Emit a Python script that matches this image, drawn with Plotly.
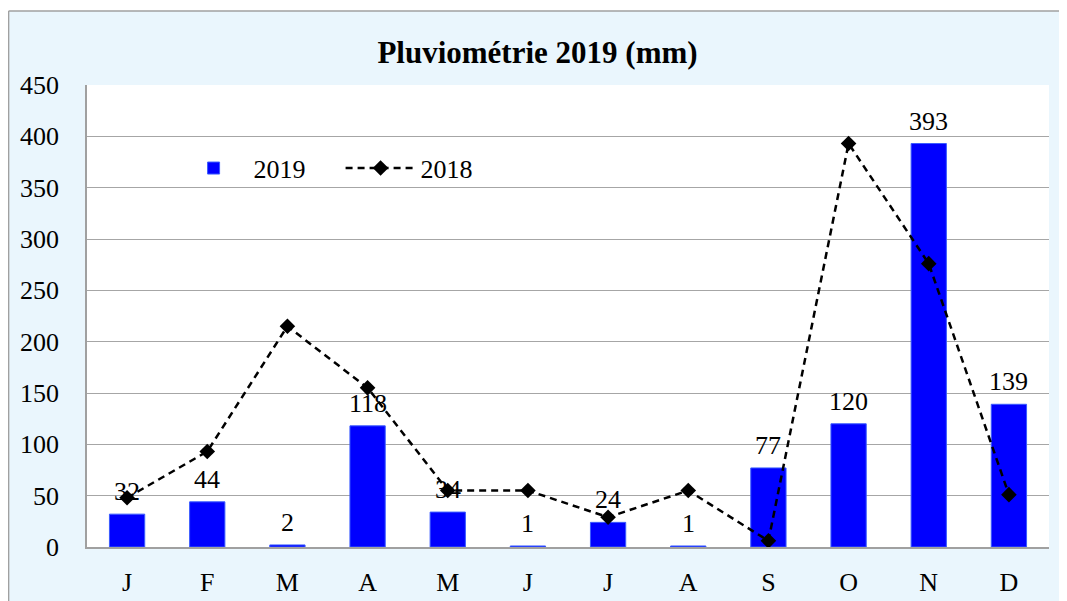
import plotly.graph_objects as go

mois = ["J", "F", "M", "A", "M", "J", "J", "A", "S", "O", "N", "D"]
pluie_2019 = [32, 44, 2, 118, 34, 1, 24, 1, 77, 120, 393, 139]
pluie_2018 = [48, 93, 215, 155, 55, 55, 29, 55, 6, 393, 276, 51]
y_ticks = [0, 50, 100, 150, 200, 250, 300, 350, 400, 450]

x = list(range(len(mois)))
police = "Liberation Serif"
gris = "#A0A0A0"

fig = go.Figure()
fig.add_trace(go.Bar(
    x=x, y=pluie_2019, name="2019",
    marker=dict(color="#0000FF", line=dict(color="#3A5BFF", width=1)),
    width=0.44,
))
fig.add_trace(go.Scatter(
    x=x, y=pluie_2018, name="2018", mode="lines+markers",
    line=dict(color="black", width=2.5, dash="7px,5px"),
    marker=dict(symbol="diamond", size=12, color="black"),
))

# étiquettes des barres, un peu au-dessus comme dans excel
for xi, v in zip(x, pluie_2019):
    fig.add_annotation(x=xi, y=v, text=str(v), showarrow=False, yanchor="bottom",
                       yshift=6, font=dict(family=police, size=26, color="black"))

# la page html ajoute une marge de 8 px en haut et a gauche
fig.update_layout(
    width=1059, height=593,
    margin=dict(l=79, r=18, t=77, b=54),
    paper_bgcolor="#EAF6FD", plot_bgcolor="white",
    font=dict(family=police, size=26, color="black"),
    title=dict(text="<b>Pluviométrie 2019 (mm)</b>", x=0.5, xanchor="center",
               y=0.926, yanchor="middle", font=dict(family=police, size=31)),
    legend=dict(orientation="h", x=0.09, y=0.82, xanchor="left", yanchor="middle",
                bgcolor="rgba(0,0,0,0)", font=dict(family=police, size=26),
                itemwidth=70, entrywidth=82),
    shapes=[
        dict(type="rect", xref="paper", yref="paper", x0=-0.1, x1=1.03, y0=1.160, y1=1.2,
             fillcolor="white", line=dict(width=0), layer="below"),
        dict(type="line", xref="paper", yref="paper", x0=-0.0815, x1=1.03, y0=1.160, y1=1.160,
             line=dict(color=gris, width=1.5)),
        dict(type="line", xref="paper", yref="paper", x0=-0.0815, x1=-0.0815, y0=-0.2, y1=1.160,
             line=dict(color=gris, width=1.5)),
    ],
)
fig.update_xaxes(
    tickmode="array", tickvals=x, ticktext=mois, range=[-0.5, 11.5],
    showgrid=False, showline=True, linecolor=gris, linewidth=1.5, automargin=False,
    ticks="", ticklabelstandoff=11, tickfont=dict(family=police, size=26),
)
fig.update_yaxes(
    range=[0, 450], tickvals=y_ticks, showgrid=True, gridcolor="#A6A6A6", gridwidth=1.2,
    showline=True, linecolor=gris, linewidth=1.5, ticks="", ticklabelstandoff=21,
    automargin=False, zeroline=False, tickfont=dict(family=police, size=26),
)

fig.write_html("out.html")
